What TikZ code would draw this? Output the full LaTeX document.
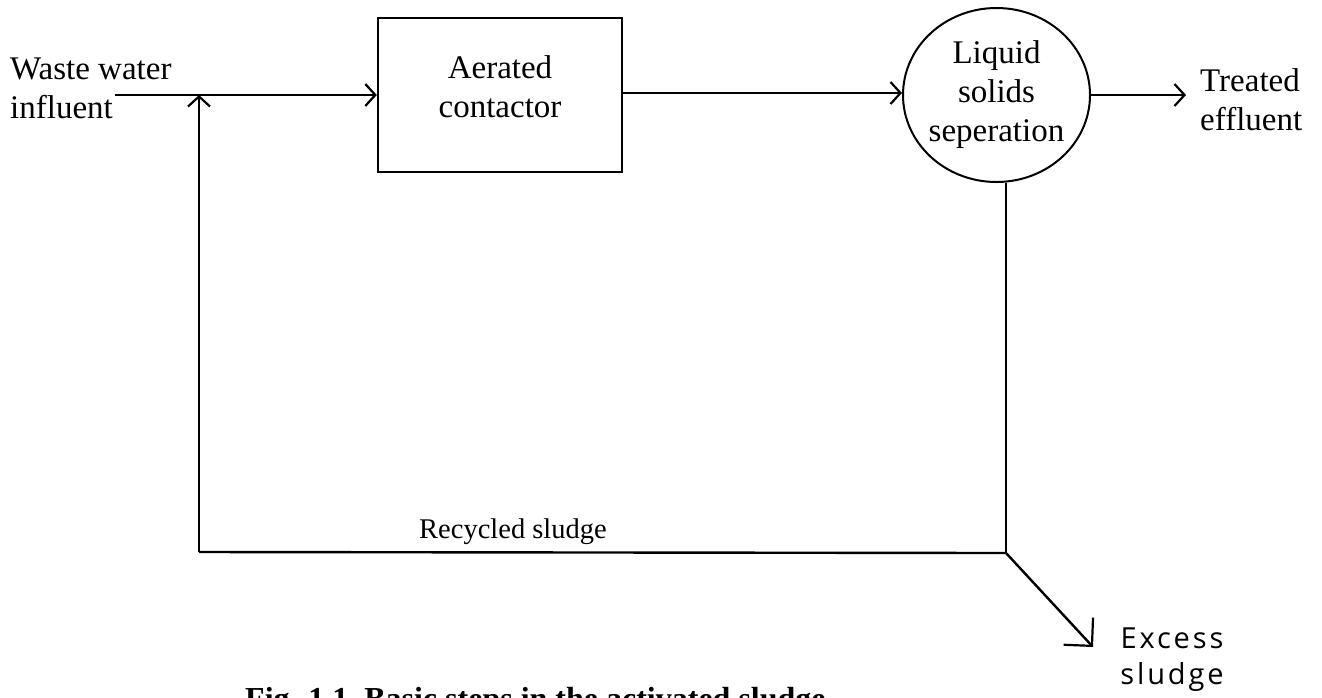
\documentclass[tikz,border=0pt]{standalone}
\usepackage{fontspec}
\setmainfont{Liberation Serif}
\newfontfamily\handfont[LetterSpace=10]{Open Sans}
\usetikzlibrary{arrows.meta,shapes.geometric}
\tikzset{
  flow/.style={line width=2.4pt, -{Straight Barb[length=10pt,width=22pt,line width=2.2pt]}},
  plain/.style={line width=2.4pt},
  lbl/.style={inner sep=0pt, align=center, font=\fontsize{33}{39}\selectfont},
  lblleft/.style={inner sep=0pt, align=left, font=\fontsize{33}{39}\selectfont},
  boxnode/.style={draw, line width=2.4pt, minimum width=244pt, minimum height=154pt, inner sep=0pt},
  sepnode/.style={draw, ellipse, line width=2pt, minimum width=187pt, minimum height=174pt, inner sep=0pt},
}
\begin{document}
\begin{tikzpicture}[x=1pt,y=-1pt]
\useasboundingbox (0,0) rectangle (1322,697);
% nodes
\node[lblleft, anchor=west] (ww) at (10,88.5) {Waste water\\influent};
\node[boxnode] (ac) at (500,95) {};
\node[lbl] (acl) at (500,87) {Aerated\\contactor};
\node[sepnode] (ls) at (996.5,95) {};
\node[lbl] (lsl) at (996.5,95) {Liquid\\solids\\seperation};
\node[lblleft, anchor=west] (te) at (1200,100) {Treated\\effluent};
\node[inner sep=0pt, anchor=base, font=\fontsize{28.5}{34}\selectfont] (rs) at (513,538) {Recycled sludge};
\node[inner sep=0pt, align=center, font=\handfont\fontsize{29}{36}\selectfont] (es) at (1172,660) {Excess\\sludge};
\node[inner sep=0pt, anchor=base west, font=\bfseries\fontsize{32}{40}\selectfont] (cap) at (245,709) {Fig. 1.1\ \ Basic steps in the activated sludge};
% coordinates
\coordinate (in0) at (115,95);
\coordinate (j) at (199,95);
\coordinate (bl) at (199,552);
\coordinate (cr) at (1006,553);
\coordinate (out) at (1186,95);
\coordinate (ex) at (1093,647);
% connectors
\draw[flow] (in0) -- (ac.west);
\draw[flow] (ac.east |- 0,93) -- (ls.west |- 0,93);
\draw[flow] (ls.east) -- (out);
\draw[plain] (ls.south -| cr) -- (cr);
\draw[plain, line join=miter] (cr) -- (bl);
\draw[flow] (bl) -- (j);
\draw[line width=2.4pt, -{Straight Barb[length=20pt,width=40pt,line width=2.2pt]}] (cr) -- (ex);
\end{tikzpicture}
\end{document}
